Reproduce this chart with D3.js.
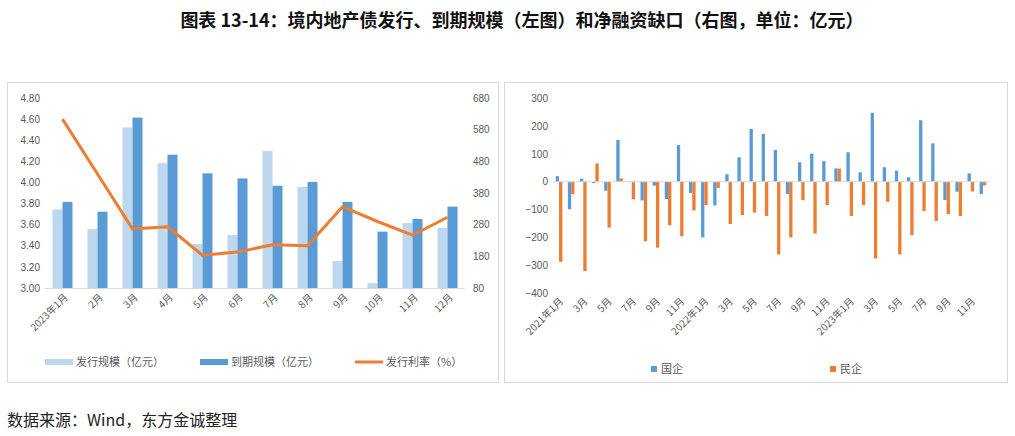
<!DOCTYPE html>
<html>
<head>
<meta charset="utf-8">
<script src="https://cdn.jsdelivr.net/npm/d3@7"></script>
<style>
  body { margin: 0; background: #fff; }
  svg { display: block; font-family: "Noto Sans CJK SC", "Noto Sans", sans-serif; }
</style>
</head>
<body>
<svg id="chart" width="1015" height="436"></svg>
<script>
// left chart data (2023)
const leftMonths = ['2023年1月', '2月', '3月', '4月', '5月', '6月', '7月', '8月', '9月', '10月', '11月', '12月'];
const issueScale = [328, 266, 587, 474, 219, 247, 513, 399, 165, 95, 285, 270];
const maturityScale = [352, 321, 618, 501, 442, 426, 403, 415, 352, 258, 298, 337];
const issueRate = [4.60, 4.08, 3.56, 3.58, 3.31, 3.34, 3.41, 3.40, 3.77, 3.63, 3.50, 3.67];
const leftTicks = [3.00, 3.20, 3.40, 3.60, 3.80, 4.00, 4.20, 4.40, 4.60, 4.80];
const rightTicks = [80, 180, 280, 380, 480, 580, 680];

// right chart data (2021-01 .. 2023-12)
const months36 = [];
[2021, 2022, 2023].forEach(y => {
  for (let m = 1; m <= 12; m++) months36.push(y + '-' + m);
});
const soe = [20, -99, 11, -5, -32, 150, 2, -67, -14, -62, 132, -40,
  -200, -85, 27, 88, 190, 172, 114, -44, 70, 101, 74, 48,
  106, 34, 248, 52, 40, 16, 221, 138, -66, -36, 30, -44];
const pe = [-288, -45, -321, 66, -165, 12, -63, -214, -237, -157, -196, -103,
  -84, -22, -152, -120, -111, -123, -261, -200, -66, -186, -84, 47,
  -123, -84, -276, -72, -261, -192, -105, -141, -116, -123, -35, -13];
const netTicks = [-400, -300, -200, -100, 0, 100, 200, 300];

const C_LIGHT = '#BDD7EE', C_DARK = '#5B9BD5', C_ORANGE = '#ED7D31';
const AX = '#D9D9D9', TXT = '#595959';

const svg = d3.select('#chart');

// title
svg.append('text')
  .attr('x', 522).attr('y', 27)
  .attr('text-anchor', 'middle')
  .attr('font-size', 18).attr('font-weight', 'bold').attr('fill', '#111')
  .text('图表 13-14：境内地产债发行、到期规模（左图）和净融资缺口（右图，单位：亿元）');

// source
svg.append('text')
  .attr('x', 7).attr('y', 426)
  .attr('font-size', 16).attr('fill', '#222')
  .text('数据来源：Wind，东方金诚整理');

// panel frames
svg.append('rect').attr('x', 7.5).attr('y', 82.5).attr('width', 491).attr('height', 300)
  .attr('fill', 'none').attr('stroke', AX);
svg.append('rect').attr('x', 504.5).attr('y', 82.5).attr('width', 503).attr('height', 300)
  .attr('fill', 'none').attr('stroke', AX);

// ---------- left chart ----------
const x0 = d3.scaleBand().domain(leftMonths).range([45, 465]);
const x1 = d3.scaleBand().domain(['issue', 'mature']).range([0, x0.bandwidth()]).paddingOuter(0.75);
const yBar = d3.scaleLinear().domain([80, 680]).range([288, 98]);
const yRate = d3.scaleLinear().domain([3.0, 4.8]).range([288, 98]);

const left = svg.append('g');

left.selectAll('rect.issue')
  .data(issueScale)
  .join('rect')
  .attr('x', (d, i) => x0(leftMonths[i]) + x1('issue'))
  .attr('y', d => yBar(d))
  .attr('width', x1.bandwidth())
  .attr('height', d => yBar(80) - yBar(d))
  .attr('fill', C_LIGHT);

left.selectAll('rect.mature')
  .data(maturityScale)
  .join('rect')
  .attr('x', (d, i) => x0(leftMonths[i]) + x1('mature'))
  .attr('y', d => yBar(d))
  .attr('width', x1.bandwidth())
  .attr('height', d => yBar(80) - yBar(d))
  .attr('fill', C_DARK);

left.append('line')
  .attr('x1', 45).attr('x2', 465)
  .attr('y1', 288.5).attr('y2', 288.5)
  .attr('stroke', AX);

const rateLine = d3.line()
  .x((d, i) => x0(leftMonths[i]) + x0.bandwidth() / 2)
  .y(d => yRate(d));

left.append('path')
  .datum(issueRate)
  .attr('d', rateLine)
  .attr('fill', 'none')
  .attr('stroke', C_ORANGE)
  .attr('stroke-width', 3)
  .attr('stroke-linejoin', 'round');

const lAxis = d3.axisLeft(yRate).tickValues(leftTicks).tickFormat(d3.format('.2f')).tickSize(0).tickPadding(5);
left.append('g').attr('transform', 'translate(45,0)').call(lAxis)
  .call(g => g.select('.domain').remove())
  .selectAll('text').attr('font-size', 10).attr('fill', TXT).attr('font-family', 'inherit');

const rAxis = d3.axisRight(yBar).tickValues(rightTicks).tickSize(0).tickPadding(8);
left.append('g').attr('transform', 'translate(465,0)').call(rAxis)
  .call(g => g.select('.domain').remove())
  .selectAll('text').attr('font-size', 10).attr('fill', TXT).attr('font-family', 'inherit');

left.selectAll('text.xl')
  .data(leftMonths)
  .join('text')
  .attr('class', 'xl')
  .attr('transform', d => `translate(${x0(d) + x0.bandwidth() / 2 + 6},${298}) rotate(-45)`)
  .attr('text-anchor', 'end')
  .attr('font-size', 10).attr('fill', TXT)
  .text(d => d);

// left legend
const leg = [
  { label: '发行规模（亿元）', color: C_LIGHT, x: 45, h: 6 },
  { label: '到期规模（亿元）', color: C_DARK, x: 200, h: 6 },
  { label: '发行利率（%）', color: C_ORANGE, x: 355, h: 3 }
];
const lg = left.selectAll('g.leg').data(leg).join('g')
  .attr('transform', d => `translate(${d.x},362)`);
lg.append('rect').attr('x', 0).attr('y', d => -d.h / 2).attr('width', 28).attr('height', d => d.h).attr('fill', d => d.color);
lg.append('text').attr('x', 31).attr('y', 4).attr('font-size', 11).attr('fill', TXT).text(d => d.label);

// ---------- right chart ----------
const xr = d3.scaleBand().domain(months36).range([553, 989]);
const xr1 = d3.scaleBand().domain(['soe', 'pe']).range([0, xr.bandwidth()]).paddingOuter(0.83);
const yr = d3.scaleLinear().domain([-400, 300]).range([293, 98.3]);

const right = svg.append('g');

right.selectAll('rect.soe')
  .data(soe)
  .join('rect')
  .attr('x', (d, i) => xr(months36[i]) + xr1('soe'))
  .attr('y', d => yr(Math.max(0, d)))
  .attr('width', xr1.bandwidth())
  .attr('height', d => Math.abs(yr(d) - yr(0)))
  .attr('fill', C_DARK);

right.selectAll('rect.pe')
  .data(pe)
  .join('rect')
  .attr('x', (d, i) => xr(months36[i]) + xr1('pe'))
  .attr('y', d => yr(Math.max(0, d)))
  .attr('width', xr1.bandwidth())
  .attr('height', d => Math.abs(yr(d) - yr(0)))
  .attr('fill', C_ORANGE);

right.append('line')
  .attr('x1', 553).attr('x2', 990)
  .attr('y1', yr(0)).attr('y2', yr(0))
  .attr('stroke', AX);

const nAxis = d3.axisLeft(yr).tickValues(netTicks).tickSize(0).tickPadding(5);
right.append('g').attr('transform', 'translate(553,0)').call(nAxis)
  .call(g => g.select('.domain').remove())
  .selectAll('text').attr('font-size', 10).attr('fill', TXT).attr('font-family', 'inherit');

const rLabel = d => {
  const [y, m] = d.split('-');
  return m === '1' ? y + '年1月' : m + '月';
};
right.selectAll('text.xr')
  .data(months36.filter((d, i) => i % 2 === 0))
  .join('text')
  .attr('class', 'xr')
  .attr('transform', d => `translate(${xr(d) + xr.bandwidth() / 2 + 5},${302}) rotate(-45)`)
  .attr('text-anchor', 'end')
  .attr('font-size', 10).attr('fill', TXT)
  .text(rLabel);

// right legend
const leg2 = [
  { label: '国企', color: C_DARK, x: 651 },
  { label: '民企', color: C_ORANGE, x: 830 }
];
const lg2 = right.selectAll('g.leg2').data(leg2).join('g')
  .attr('transform', d => `translate(${d.x},369)`);
lg2.append('rect').attr('x', 0).attr('y', -3).attr('width', 6).attr('height', 6).attr('fill', d => d.color);
lg2.append('text').attr('x', 10).attr('y', 4).attr('font-size', 11).attr('fill', TXT).text(d => d.label);
</script>
</body>
</html>
